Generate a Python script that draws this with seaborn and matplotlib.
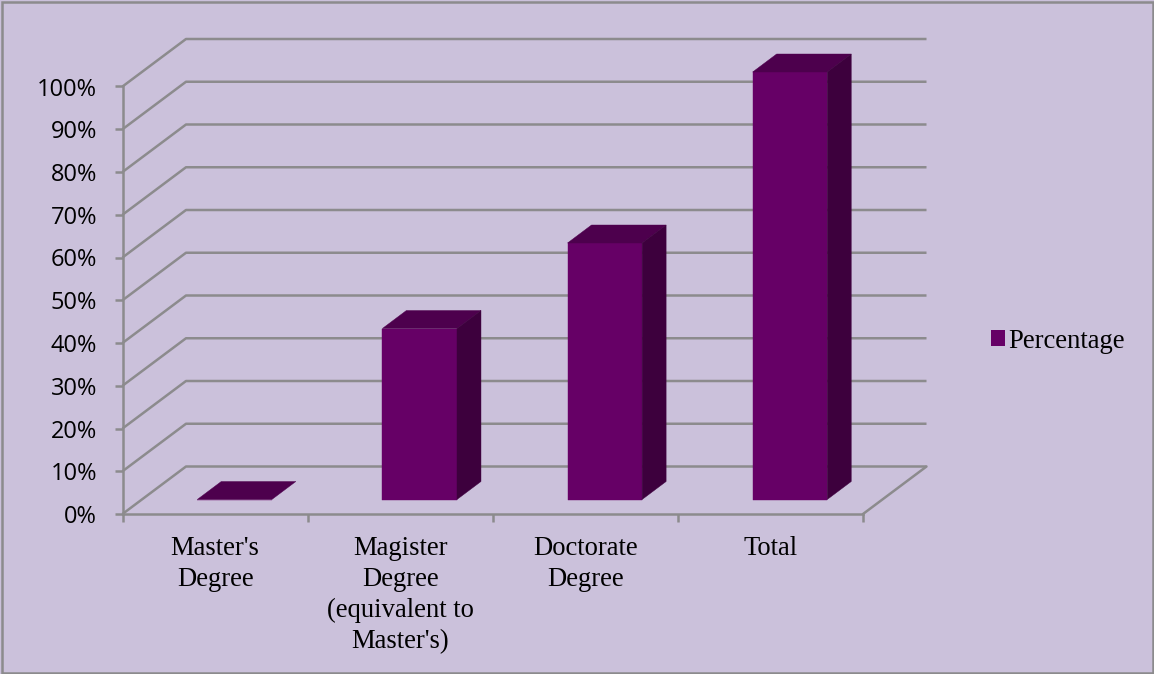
import matplotlib
matplotlib.use("Agg")
import matplotlib.pyplot as plt
from matplotlib.patches import Polygon, Rectangle, Patch
from matplotlib.ticker import MultipleLocator, PercentFormatter, FixedLocator
import seaborn as sns
import pandas as pd

categories = ["Master's\nDegree", "Magister\nDegree\n(equivalent to\nMaster's)", "Doctorate\nDegree", "Total"]
percentages = [0, 40, 60, 100]
series_name = "Percentage"

BG = "#CBC1DB"
GRID = "#8C8B8D"
FRONT = "#660066"
TOP = "#4D004D"
SIDE = "#3D003D"
LW = 1.8

W, H = 1154, 674
sns.set_theme(style="white")
plt.rcParams["font.family"] = ["Liberation Serif", "DejaVu Serif"]

fig = plt.figure(figsize=(W / 100, H / 100), dpi=100, facecolor=BG)
ax = fig.add_axes([122.5 / W, 1 - 514 / H, (863 - 122.5) / W, (514 - 86.5) / H])
ax.set_facecolor("none")

df = pd.DataFrame({"category": categories, "value": percentages})
sns.barplot(data=df, x="category", y="value", color=FRONT, saturation=1, width=0.403, ax=ax, zorder=3)
ax.set_xlim(-0.5, 3.5)
ax.set_ylim(0, 100)
ax.set_xlabel("")
ax.set_ylabel("")

px_x = (863 - 122.5) / 4      # pixels per category
px_y = (514 - 86.5) / 100     # pixels per percent
wall_dx, wall_dy = 63.5 / px_x, 47.5 / px_y
bar_ox, bar_oy = 19.5 / px_x, 14.5 / px_y
bar_dx, bar_dy = 24 / px_x, 18 / px_y

# gridlines on side wall and back wall, plus the floor
ticks = list(range(0, 101, 10))
for v in ticks:
    xs = [-0.5, -0.5 + wall_dx, 3.5 + wall_dx]
    ys = [v, v + wall_dy, v + wall_dy]
    ax.plot(xs, ys, color=GRID, lw=LW, clip_on=False, zorder=1, solid_capstyle="butt")
ax.plot([3.5, 3.5 + wall_dx], [0, wall_dy], color=GRID, lw=LW, clip_on=False, zorder=1)

# shift the bars into the depth and add the top and side faces
for p in list(ax.patches):
    p.set_x(p.get_x() + bar_ox)
    p.set_y(p.get_y() + bar_oy)
    p.set_clip_on(False)
    p.set_edgecolor(FRONT)
    p.set_linewidth(0.3)
    x0, y0, w, h = p.get_x(), p.get_y(), p.get_width(), p.get_height()
    x1, y1 = x0 + w, y0 + h
    ax.add_patch(Polygon([(x0, y1), (x1, y1), (x1 + bar_dx, y1 + bar_dy), (x0 + bar_dx, y1 + bar_dy)],
                         closed=True, fc=TOP, ec=TOP, lw=0.3, clip_on=False, zorder=3))
    if h > 0:
        ax.add_patch(Polygon([(x1, y0), (x1 + bar_dx, y0 + bar_dy), (x1 + bar_dx, y1 + bar_dy), (x1, y1)],
                             closed=True, fc=SIDE, ec=SIDE, lw=0.3, clip_on=False, zorder=3))

for s in ("top", "right"):
    ax.spines[s].set_visible(False)
for s in ("left", "bottom"):
    ax.spines[s].set_color(GRID)
    ax.spines[s].set_linewidth(LW)
    ax.spines[s].set_zorder(2)

ax.yaxis.set_major_locator(MultipleLocator(10))
ax.yaxis.set_major_formatter(PercentFormatter(100, decimals=0))
ax.tick_params(axis="y", length=5.8, width=LW, color=GRID, pad=12.5, left=True, labelcolor="black", labelsize=17)
for t in ax.get_yticklabels():
    t.set_fontfamily(["Open Sans", "DejaVu Sans"])

ax.xaxis.set_minor_locator(FixedLocator([-0.5, 0.5, 1.5, 2.5, 3.5]))
ax.tick_params(axis="x", which="minor", length=5.8, width=LW, color=GRID, bottom=True)
ax.tick_params(axis="x", which="major", length=0, pad=15.5, labelsize=19.2, labelcolor="black")
for t in ax.get_xticklabels():
    t.set_linespacing(1.33)
    t.set_ha("center")

leg = ax.legend(handles=[Patch(facecolor=FRONT, edgecolor="none", label=series_name)],
                loc="center left", bbox_to_anchor=(991 / W, 1 - 341 / H), bbox_transform=fig.transFigure,
                frameon=False, fontsize=19.2, handlelength=0.53, handleheight=0.53, handletextpad=0.1,
                borderpad=0, borderaxespad=0, labelcolor="black")

fig.add_artist(Rectangle((1.5 / W, 1.5 / H), (W - 3) / W, (H - 3) / H, transform=fig.transFigure,
                         fill=False, ec=GRID, lw=1.8))

fig.savefig("out.png", dpi=100, facecolor=BG)
